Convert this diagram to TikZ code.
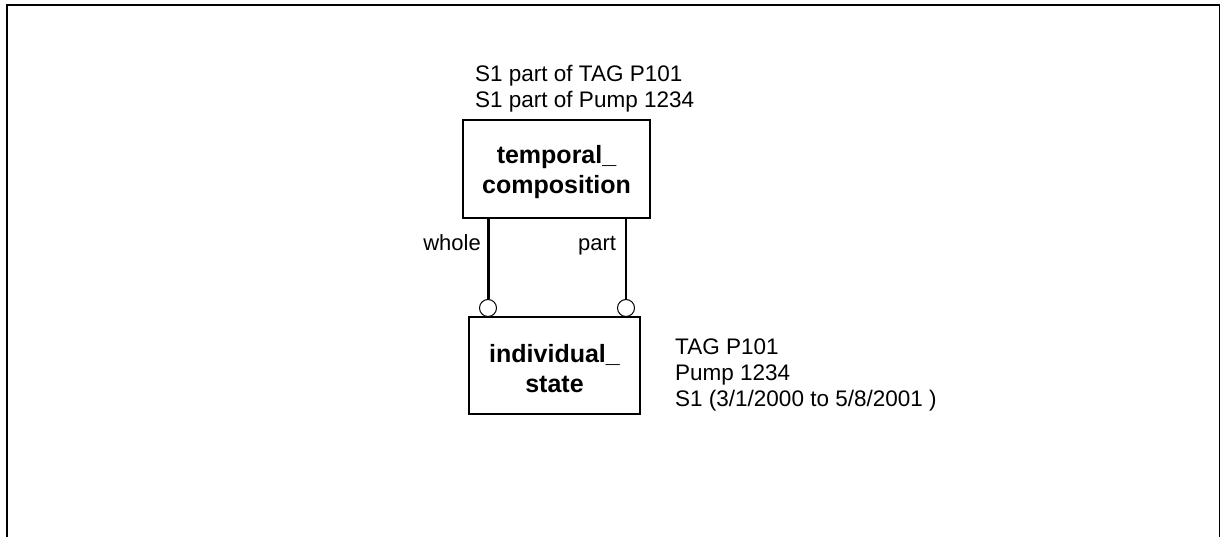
\documentclass[tikz,border=0pt]{standalone}
\usepackage{fontspec}
\setmainfont{Liberation Sans}
\newcommand{\toplift}{\rule{0pt}{24pt}}
\begin{document}
\begin{tikzpicture}[x=1pt,y=-1pt,
  entity/.style={draw, line width=1.5pt, align=center, inner sep=0pt,
    font=\bfseries\fontsize{25}{29.5}\selectfont},
  ring/.style={circle, draw, fill=white, line width=1pt, minimum size=17pt, inner sep=0pt},
  lbl/.style={inner sep=0pt, font=\fontsize{22.5}{25.8}\selectfont}]
\useasboundingbox (0,0) rectangle (1221,537);
% open frame (no bottom edge)
\draw[line width=2pt] (7,537) -- (7,5) -- (1219.5,5);
\draw[line width=1.2pt] (1219.5,4) -- (1219.5,537);

% entities
\node[entity, minimum width=187pt, minimum height=98pt] (tc) at (556.5,169) {\toplift temporal\_\\composition};
\node[entity, minimum width=171pt, minimum height=97pt] (is) at (554.5,365.5) {\toplift individual\_\\state};

% role ends
\node[ring] (w) at (488,308) {};
\node[ring] (p) at (626,308) {};
\draw[line width=3pt] (tc.south -| w) -- (w.north);
\draw[line width=1.8pt] (tc.south -| p) -- (p.north);

% role names
\node[lbl, font=\fontsize{22}{25.8}\selectfont, anchor=base east] (wl) at (481,251) {whole};
\node[lbl, font=\fontsize{22}{25.8}\selectfont, anchor=base west] (pl) at (578,251) {part};

% examples
\node[lbl, align=left, anchor=north west] (tcx) at (475,65.5) {S1 part of TAG P101\\S1 part of Pump 1234};
\node[lbl, align=left, anchor=north west] (isx) at (675,338.5) {TAG P101\\Pump 1234\\S1 (3/1/2000 to 5/8/2001 )};
\end{tikzpicture}
\end{document}
